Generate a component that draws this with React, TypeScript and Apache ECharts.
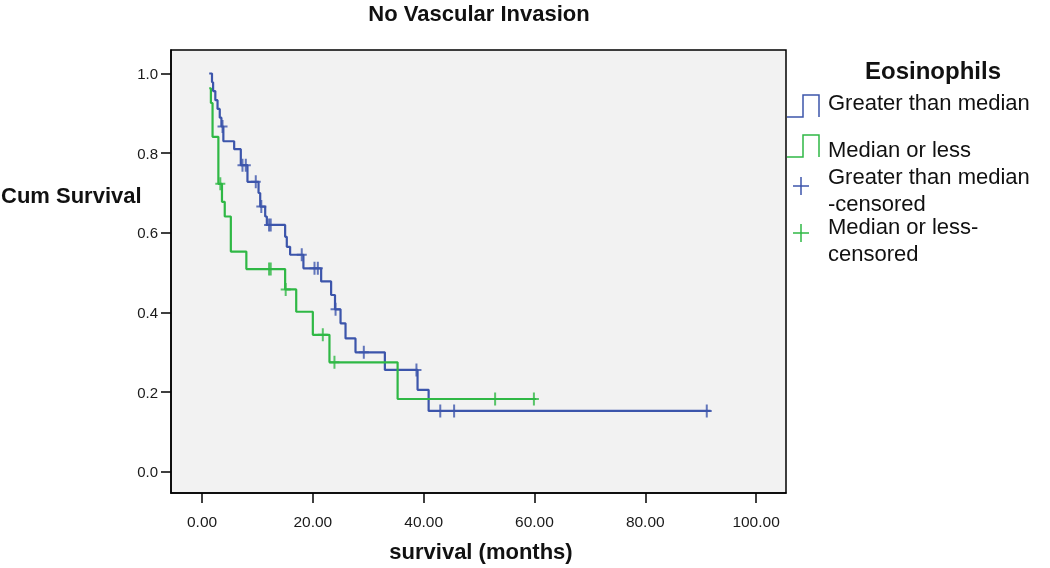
import React, { useEffect, useRef } from "react";
import * as echarts from "echarts";

const xTicks = [0, 20, 40, 60, 80, 100];
const yTicks = [0, 0.2, 0.4, 0.6, 0.8, 1.0];

// Greater than median (blue) – step points: time at which survival drops to the given level
const greaterTimes = [1.3, 1.8, 2.0, 2.4, 2.8, 3.2, 3.5, 3.85, 5.8, 7.0, 8.2, 10.2, 10.5, 11.4, 11.7, 15.0, 15.3, 15.9, 18.3, 21.5, 23.3, 24.0, 25.0, 25.9, 27.7, 33.0, 38.9, 40.9, 91.8];
const greaterSurv = [1.0, 0.978, 0.956, 0.933, 0.911, 0.889, 0.867, 0.83, 0.81, 0.77, 0.728, 0.7, 0.666, 0.641, 0.62, 0.59, 0.565, 0.545, 0.511, 0.478, 0.444, 0.408, 0.373, 0.335, 0.3, 0.256, 0.206, 0.153, 0.153];
const greaterCensTimes = [3.7, 7.3, 7.9, 9.7, 10.7, 12.1, 12.4, 18.0, 20.3, 20.9, 24.1, 29.2, 38.7, 43.0, 45.5, 91.1];
const greaterCensSurv = [0.867, 0.77, 0.77, 0.728, 0.666, 0.62, 0.62, 0.545, 0.511, 0.511, 0.408, 0.3, 0.256, 0.153, 0.153, 0.153];

// Median or less (green)
const lessTimes = [1.3, 1.6, 1.9, 2.95, 3.6, 4.1, 5.2, 8.0, 15.0, 17.0, 20.0, 23.0, 35.3, 60.3];
const lessSurv = [0.963, 0.926, 0.841, 0.723, 0.678, 0.641, 0.553, 0.509, 0.458, 0.402, 0.344, 0.275, 0.183, 0.183];
const lessCensTimes = [3.3, 12.1, 12.4, 15.1, 21.8, 23.9, 52.9, 59.9];
const lessCensSurv = [0.723, 0.509, 0.509, 0.458, 0.344, 0.275, 0.183, 0.183];

const BLUE = "#3c55ab";
const GREEN = "#2fb845";
const FONT = "'Liberation Sans', Arial, sans-serif";
const PLUS = "path://M4,0h2v13h-2z M0,5.5h10v2h-10z";

const pairs = (xs: number[], ys: number[]) => xs.map((x, i) => [x, ys[i]]);

function txt(text: string, x: number, y: number, size: number, bold: boolean, align = "left", lineHeight?: number) {
  return {
    type: "text",
    x,
    y,
    silent: true,
    style: {
      text,
      fill: "#111",
      font: `${bold ? "bold " : ""}${size}px ${FONT}`,
      align,
      verticalAlign: "middle",
      textAlign: align,
      textVerticalAlign: "middle",
      ...(lineHeight ? { lineHeight } : {}),
    },
  };
}

export default function App() {
  const ref = useRef<HTMLDivElement>(null);
  useEffect(() => {
    if (!ref.current) return;
    const chart = echarts.init(ref.current, undefined, { renderer: "svg" });
    chart.setOption({
      animation: false,
      grid: {
        left: 171,
        right: 264,
        top: 50,
        bottom: 75,
        show: true,
        backgroundColor: "#f2f2f2",
        borderColor: "#000",
        borderWidth: 1.5,
        outerBoundsMode: "none",
      },
      xAxis: {
        type: "value",
        min: -5.6,
        max: 105.4,
        axisLine: { show: true, onZero: false, lineStyle: { color: "#000", width: 1.5 } },
        axisTick: { show: true, length: 10, customValues: xTicks, lineStyle: { color: "#000", width: 1.5 } },
        axisLabel: {
          customValues: xTicks,
          formatter: (v: number) => v.toFixed(2),
          fontSize: 15.5,
          fontFamily: FONT,
          color: "#1a1a1a",
          margin: 20,
        },
        splitLine: { show: false },
      },
      yAxis: {
        type: "value",
        min: -0.053,
        max: 1.059,
        axisLine: { show: true, onZero: false, lineStyle: { color: "#000", width: 1.5 } },
        axisTick: { show: true, length: 10, customValues: yTicks, lineStyle: { color: "#000", width: 1.5 } },
        axisLabel: {
          customValues: yTicks,
          formatter: (v: number) => v.toFixed(1),
          fontSize: 15,
          fontFamily: FONT,
          color: "#1a1a1a",
          margin: 13,
        },
        splitLine: { show: false },
      },
      series: [
        {
          name: "Greater than median",
          type: "line",
          step: "end",
          showSymbol: false,
          data: pairs(greaterTimes, greaterSurv),
          lineStyle: { color: BLUE, width: 2.2 },
          itemStyle: { color: BLUE },
        },
        {
          name: "Median or less",
          type: "line",
          step: "end",
          showSymbol: false,
          data: pairs(lessTimes, lessSurv),
          lineStyle: { color: GREEN, width: 2.2 },
          itemStyle: { color: GREEN },
        },
        {
          name: "Greater than median-censored",
          type: "scatter",
          symbol: PLUS,
          symbolSize: [10, 13],
          data: pairs(greaterCensTimes, greaterCensSurv),
          itemStyle: { color: BLUE },
        },
        {
          name: "Median or less-censored",
          type: "scatter",
          symbol: PLUS,
          symbolSize: [10, 13],
          data: pairs(lessCensTimes, lessCensSurv),
          itemStyle: { color: GREEN },
        },
      ],
      graphic: [
        txt("No Vascular Invasion", 479, 13, 22, true, "center"),
        txt("survival (months)", 481, 551, 22, true, "center"),
        txt("Cum Survival", 1, 195, 22, true, "left"),
        txt("Eosinophils", 933, 70, 24, true, "center"),
        {
          type: "polyline",
          silent: true,
          shape: { points: [[787, 117], [803, 117], [803, 95], [819, 95], [819, 117]] },
          style: { stroke: BLUE, lineWidth: 1.5, fill: null },
        },
        {
          type: "polyline",
          silent: true,
          shape: { points: [[787, 157], [803, 157], [803, 135], [819, 135], [819, 157]] },
          style: { stroke: GREEN, lineWidth: 1.5, fill: null },
        },
        { type: "line", silent: true, shape: { x1: 793, y1: 186, x2: 809, y2: 186 }, style: { stroke: BLUE, lineWidth: 1.5 } },
        { type: "line", silent: true, shape: { x1: 801, y1: 177, x2: 801, y2: 195 }, style: { stroke: BLUE, lineWidth: 1.5 } },
        { type: "line", silent: true, shape: { x1: 793, y1: 233, x2: 809, y2: 233 }, style: { stroke: GREEN, lineWidth: 1.5 } },
        { type: "line", silent: true, shape: { x1: 801, y1: 224, x2: 801, y2: 242 }, style: { stroke: GREEN, lineWidth: 1.5 } },
        txt("Greater than median", 828, 102, 22, false),
        txt("Median or less", 828, 149, 22, false),
        txt("Greater than median\n-censored", 828, 190, 22, false, "left", 26.5),
        txt("Median or less-\ncensored", 828, 240, 22, false, "left", 26.5),
      ],
    });
    return () => chart.dispose();
  }, []);
  return <div ref={ref} style={{ position: "fixed", left: 0, top: 0, width: 1050, height: 568 }} />;
}
